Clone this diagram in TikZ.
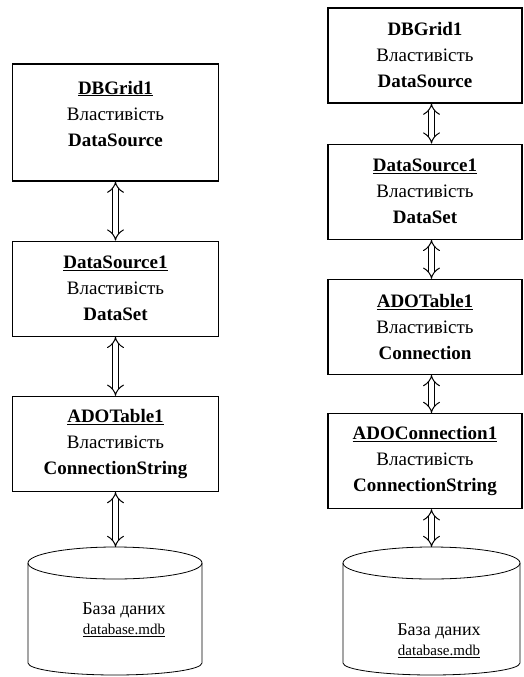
\documentclass[tikz,border=0pt]{standalone}
\usepackage{fontspec}
\setmainfont{Liberation Serif}
\usetikzlibrary{arrows.meta,positioning}

\tikzset{
  comp/.style={draw, line width=1.2pt, minimum width=206pt, minimum height=95pt,
    inner sep=0pt, align=center, font=\fontsize{19}{26}\selectfont},
  link/.style={draw, line width=1pt, double, double distance=5pt,
    {Implies[length=6pt,width=15pt]}-{Implies[length=6pt,width=15pt]}},
  dbline/.style={draw, line width=0.8pt},
  dbtext/.style={align=center, font=\fontsize{18}{26}\selectfont}
}

\begin{document}
\begin{tikzpicture}[x=1pt, y=-1pt]
  \useasboundingbox (0,0) rectangle (523,677);

  % left chain
  \node[comp, minimum height=117pt, text depth=18pt] (lgrid) at (115.5,122.5)
    {\underline{\textbf{DBGrid1}}\\Властивість\\\textbf{DataSource}};
  \node[comp] (lsrc) [below=59pt of lgrid]
    {\underline{\textbf{DataSource1}}\\Властивість\\\textbf{DataSet}};
  \node[comp] (ltab) [below=59pt of lsrc]
    {\underline{\textbf{ADOTable1}}\\Властивість\\\textbf{ConnectionString}};

  % left database
  \coordinate (lbase) at (115.5,547);
  \draw[dbline] (28,563) -- (28,663)
    arc[start angle=180, end angle=360, x radius=87pt, y radius=12pt] -- (202,563);
  \draw[dbline] (115,563) ellipse[x radius=87pt, y radius=16pt];
  \node[dbtext] (lbasetxt) at (124,620)
    {База даних\\[-6pt]{\fontsize{15}{18}\selectfont\underline{database.mdb}}};

  \draw[link] (lgrid) -- (lsrc);
  \draw[link] (lsrc) -- (ltab);
  \draw[link] (ltab.south -| lbase) -- (lbase);

  % right chain
  \node[comp, minimum width=194pt] (rgrid) at (425,55.5)
    {\textbf{DBGrid1}\\Властивість\\\textbf{DataSource}};
  \node[comp, minimum width=194pt] (rsrc) [below=40pt of rgrid]
    {\underline{\textbf{DataSource1}}\\Властивість\\\textbf{DataSet}};
  \node[comp, minimum width=194pt] (rtab) [below=39pt of rsrc]
    {\underline{\textbf{ADOTable1}}\\Властивість\\\textbf{Connection}};
  \node[comp, minimum width=194pt] (rconn) [below=38pt of rtab]
    {\underline{\textbf{ADOConnection1}}\\Властивість\\\textbf{ConnectionString}};

  % right database
  \coordinate (rbase) at (431.5,547);
  \draw[dbline] (343,563) -- (343,663)
    arc[start angle=180, end angle=360, x radius=88.5pt, y radius=12pt] -- (520,563);
  \draw[dbline] (431.5,563) ellipse[x radius=88.5pt, y radius=16pt];
  \node[dbtext] (rbasetxt) at (439,641)
    {База даних\\[-6pt]{\fontsize{15}{18}\selectfont\underline{database.mdb}}};

  \draw[link] ([xshift=6.5pt]rgrid.south) -- ([xshift=6.5pt]rsrc.north);
  \draw[link] ([xshift=6.5pt]rsrc.south) -- ([xshift=6.5pt]rtab.north);
  \draw[link] ([xshift=6.5pt]rtab.south) -- ([xshift=6.5pt]rconn.north);
  \draw[link] (rconn.south -| rbase) -- (rbase);
\end{tikzpicture}
\end{document}
